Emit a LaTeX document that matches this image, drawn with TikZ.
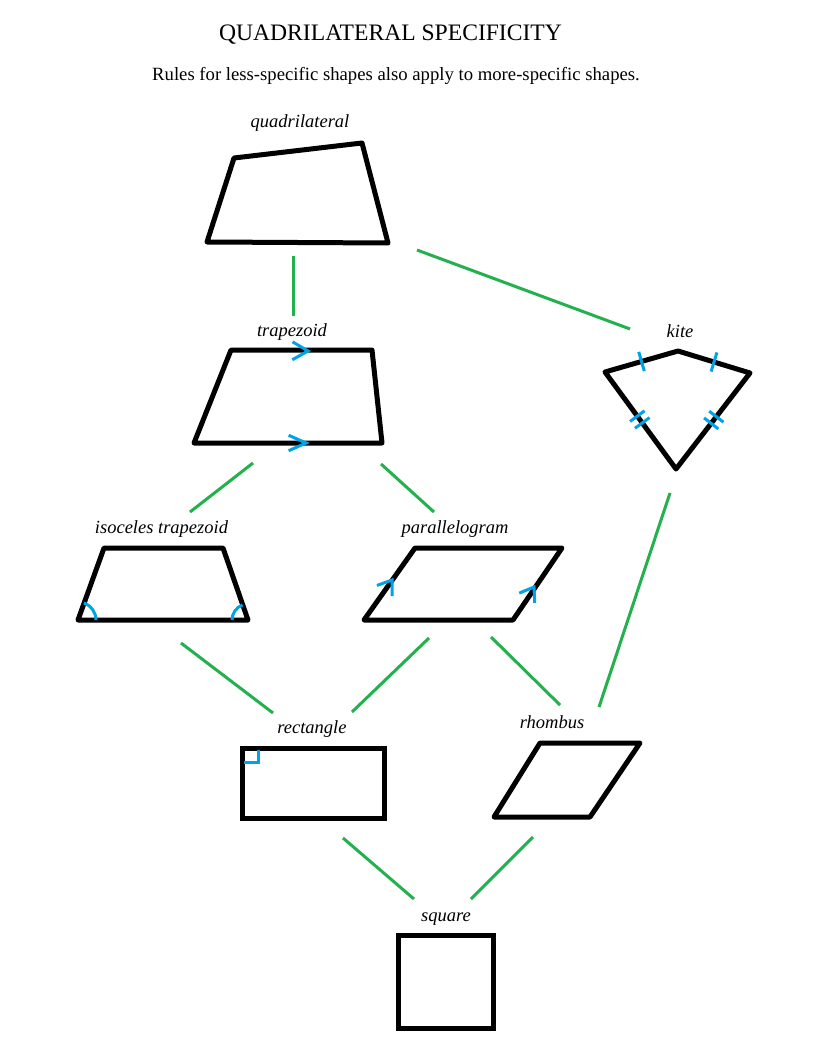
\documentclass[tikz,border=0pt]{standalone}
\usepackage{fontspec}
\setmainfont{Liberation Serif}
\usetikzlibrary{calc}
\definecolor{linkgreen}{RGB}{34,177,76}
\definecolor{markblue}{RGB}{0,162,232}
\begin{document}
\begin{tikzpicture}[x=1pt,y=-1pt,
  shapeline/.style={line width=5pt, line join=round, line cap=round, black},
  link/.style={line width=3pt, linkgreen},
  markline/.style={line width=3pt, markblue},
  lbl/.style={anchor=base, inner sep=0pt, font=\fontsize{18.5}{20}\selectfont\itshape},
]
\fill[white] (0,0) rectangle (816,1056);
\useasboundingbox (0,0) rectangle (816,1056);

% title
\node[anchor=base, inner sep=0pt, font=\fontsize{23.6}{26}\selectfont] (title) at (390.5,41) {QUADRILATERAL SPECIFICITY};
\node[anchor=base, inner sep=0pt, font=\fontsize{18.7}{21}\selectfont] (subtitle) at (396,81) {Rules for less-specific shapes also apply to more-specific shapes.};

% labels
\node[lbl] (lquad) at (300,128) {quadrilateral};
\node[lbl] (ltrap) at (292,336) {trapezoid};
\node[lbl] (lkite) at (680,337) {kite};
\node[lbl] (liso) at (161.5,533) {isoceles trapezoid};
\node[lbl] (lpara) at (455,533) {parallelogram};
\node[lbl] (lrect) at (312,733) {rectangle};
\node[lbl] (lrhom) at (552,728) {rhombus};
\node[lbl] (lsq) at (446,921) {square};

% quadrilateral
\coordinate (q1) at (234,158); \coordinate (q2) at (362,143);
\coordinate (q3) at (388,243); \coordinate (q4) at (207,242);
\draw[shapeline] (q1) -- (q2) -- (q3) -- (q4) -- cycle;

% trapezoid
\coordinate (t1) at (231,350); \coordinate (t2) at (372,350);
\coordinate (t3) at (382,443); \coordinate (t4) at (194,443);
\draw[shapeline] (t1) -- (t2) -- (t3) -- (t4) -- cycle;
\coordinate (ta) at (308,351); \coordinate (tb) at (306,443);
\draw[markline] ($(ta)!18pt!30:(t1)$) -- (ta) -- ($(ta)!18pt!-30:(t1)$);
\draw[markline] ($(tb)!19pt!24:(t4)$) -- (tb) -- ($(tb)!19pt!-24:(t4)$);

% kite
\coordinate (kl) at (605,372); \coordinate (kt) at (678,351);
\coordinate (kr) at (750,373); \coordinate (kb) at (676,469);
\draw[shapeline] (kl) -- (kt) -- (kr) -- (kb) -- cycle;
\coordinate (m1) at ($(kl)!0.5!(kt)$);
\coordinate (m2) at ($(kt)!0.5!(kr)$);
\coordinate (m3) at ($(kl)!0.455!(kb)$);
\coordinate (m4) at ($(kl)!0.525!(kb)$);
\coordinate (m5) at ($(kr)!0.455!(kb)$);
\coordinate (m6) at ($(kr)!0.525!(kb)$);
\draw[markline] ($(m1)!10pt!90:(kt)$) -- ($(m1)!10pt!-90:(kt)$);
\draw[markline] ($(m2)!10pt!90:(kr)$) -- ($(m2)!10pt!-90:(kr)$);
\draw[markline] ($(m3)!9pt!90:(kb)$) -- ($(m3)!9pt!-90:(kb)$);
\draw[markline] ($(m4)!9pt!90:(kb)$) -- ($(m4)!9pt!-90:(kb)$);
\draw[markline] ($(m5)!9pt!90:(kb)$) -- ($(m5)!9pt!-90:(kb)$);
\draw[markline] ($(m6)!9pt!90:(kb)$) -- ($(m6)!9pt!-90:(kb)$);

% isosceles trapezoid
\coordinate (i1) at (104,548); \coordinate (i2) at (223,548);
\coordinate (i3) at (248,620); \coordinate (i4) at (78,620);
\draw[shapeline] (i1) -- (i2) -- (i3) -- (i4) -- cycle;
\draw[markline] ([shift={(0:18)}]i4) arc[start angle=0, end angle=-70.8, radius=18];
\draw[markline] ([shift={(180:16)}]i3) arc[start angle=180, end angle=250.1, radius=16];

% parallelogram
\coordinate (p1) at (415,548); \coordinate (p2) at (562,548);
\coordinate (p3) at (513,620); \coordinate (p4) at (364,620);
\draw[shapeline] (p1) -- (p2) -- (p3) -- (p4) -- cycle;
\coordinate (pa) at (392,580); \coordinate (pb) at (534,587);
\draw[markline] ($(pa)!16pt!35:(p4)$) -- (pa) -- ($(pa)!16pt!-35:(p4)$);
\draw[markline] ($(pb)!16pt!35:(p3)$) -- (pb) -- ($(pb)!16pt!-35:(p3)$);

% rectangle
\coordinate (r1) at (242,748); \coordinate (r3) at (384,818);
\draw[shapeline, line join=miter] (r1) rectangle (r3);
\draw[markline] ($(r1)+(1.5,14)$) -- ($(r1)+(16,14)$) -- ($(r1)+(16,1.5)$);

% rhombus
\coordinate (h1) at (540,743); \coordinate (h2) at (640,743);
\coordinate (h3) at (590,817); \coordinate (h4) at (494,817);
\draw[shapeline] (h1) -- (h2) -- (h3) -- (h4) -- cycle;

% square
\coordinate (s1) at (398,935); \coordinate (s3) at (493,1028);
\draw[shapeline, line join=miter] (s1) rectangle (s3);

% connector end points
\coordinate (cqt1) at (293,256); \coordinate (cqt2) at (293,316);
\coordinate (cqk1) at (417,250); \coordinate (cqk2) at (630,329);
\coordinate (cti1) at (253,463); \coordinate (cti2) at (190,512);
\coordinate (ctp1) at (381,464); \coordinate (ctp2) at (434,512);
\coordinate (cir1) at (181,643); \coordinate (cir2) at (273,713);
\coordinate (cpr1) at (429,638); \coordinate (cpr2) at (352,712);
\coordinate (cph1) at (491,637); \coordinate (cph2) at (560,705);
\coordinate (ckh1) at (670,493); \coordinate (ckh2) at (599,707);
\coordinate (crs1) at (343,838); \coordinate (crs2) at (414,899);
\coordinate (chs1) at (533,837); \coordinate (chs2) at (471,899);

\draw[link] (cqt1) -- (cqt2);
\draw[link] (cqk1) -- (cqk2);
\draw[link] (cti1) -- (cti2);
\draw[link] (ctp1) -- (ctp2);
\draw[link] (cir1) -- (cir2);
\draw[link] (cpr1) -- (cpr2);
\draw[link] (cph1) -- (cph2);
\draw[link] (ckh1) -- (ckh2);
\draw[link] (crs1) -- (crs2);
\draw[link] (chs1) -- (chs2);
\end{tikzpicture}
\end{document}
